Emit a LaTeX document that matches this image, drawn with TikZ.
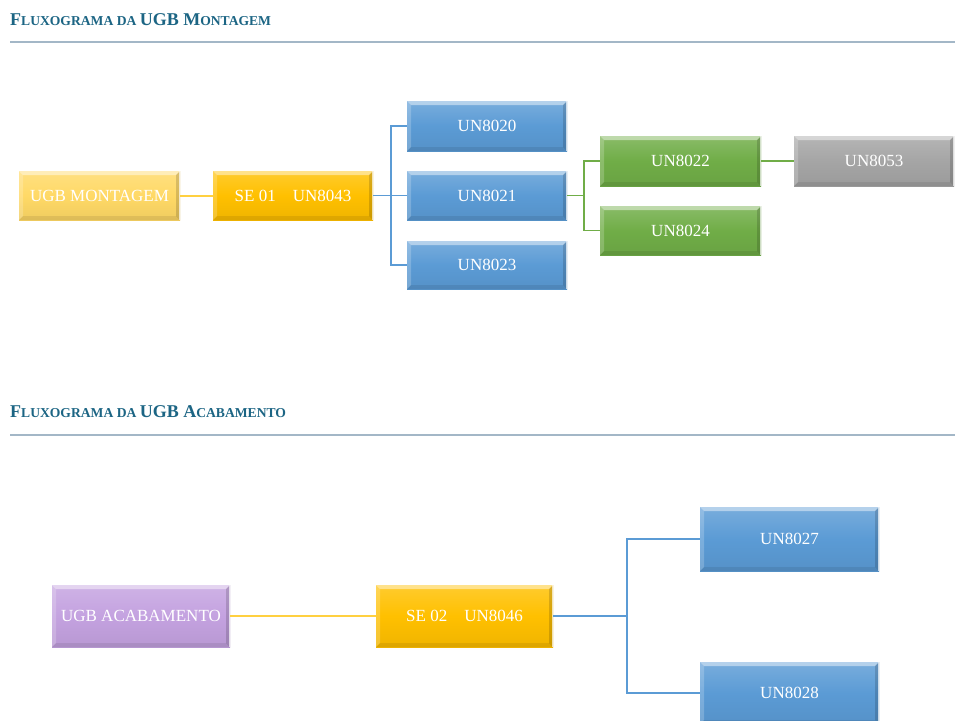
\documentclass[tikz,border=0pt]{standalone}
\usepackage{fontspec}
\setmainfont{Liberation Serif}
\usetikzlibrary{calc}

\definecolor{ugbyel}{HTML}{FFD966}
\definecolor{segold}{HTML}{FFC000}
\definecolor{unblue}{HTML}{5B9BD5}
\definecolor{ungreen}{HTML}{70AD47}
\definecolor{ungray}{HTML}{A5A5A5}
\definecolor{ugbpurple}{HTML}{C4A2E0}
\definecolor{headteal}{HTML}{1C6584}
\definecolor{rulegray}{HTML}{A3B7C7}
\definecolor{linkyel}{HTML}{FFD040}

% small-caps heading sizes
\newcommand\hbig{\fontsize{18}{20}\selectfont}
\newcommand\hsmall{\fontsize{13.6}{15}\selectfont}

\tikzset{
  bevel/.style={path picture={
    \coordinate (bNW) at (path picture bounding box.north west);
    \coordinate (bNE) at (path picture bounding box.north east);
    \coordinate (bSW) at (path picture bounding box.south west);
    \coordinate (bSE) at (path picture bounding box.south east);
    \fill[white,opacity=.45] (bNW) -- (bNE)
      -- ([shift={(-4pt,-4pt)}]bNE) -- ([shift={(4pt,-4pt)}]bNW) -- cycle;
    \fill[white,opacity=.2] (bNW) -- ([shift={(4pt,-4pt)}]bNW)
      -- ([shift={(4pt,4pt)}]bSW) -- (bSW) -- cycle;
    \fill[black,opacity=.08] (bSW) -- (bSE)
      -- ([shift={(-4pt,4pt)}]bSE) -- ([shift={(4pt,4pt)}]bSW) -- cycle;
    \fill[black,opacity=.15] (bNE) -- (bSE)
      -- ([shift={(-4pt,4pt)}]bSE) -- ([shift={(-4pt,-4pt)}]bNE) -- cycle;
    \draw[white,opacity=.7,line width=.8pt] ([xshift=-.4pt]bNE) -- ([xshift=-.4pt]bSE);
  }},
  unbox/.style={rectangle, inner sep=0pt, outer sep=0pt, anchor=north west,
    top color=#1!82!white, bottom color=#1!94!black, middle color=#1,
    text=white, font=\fontsize{17}{19}\selectfont, bevel},
  sz/.style 2 args={minimum width=#1pt, minimum height=#2pt},
  heading/.style={anchor=base west, inner sep=0pt, text=headteal, font=\bfseries},
  hrule/.style={rulegray, line width=1.3pt},
  yellink/.style={linkyel, line width=2pt},
  bluelink/.style={unblue, line width=1.4pt},
  greenlink/.style={ungreen, line width=1.4pt},
}

\begin{document}
\begin{tikzpicture}[x=1pt, y=-1pt]
  \path[use as bounding box, fill=white] (0,0) rectangle (955,720);
  \clip (0,0) rectangle (955,720);

  % ---- first flowchart ----
  \node[heading] (h1) at (10,25)
    {\hbig F\hsmall LUXOGRAMA DA \hbig UGB M\hsmall ONTAGEM};
  \coordinate (r1a) at (10,42);
  \coordinate (r1b) at (955,42);
  \draw[hrule] (r1a) -- (r1b);

  \node[unbox=ugbyel, sz={161}{49}] (ugbm) at (19,171) {UGB MONTAGEM};
  \node[unbox=segold, sz={160}{49}] (se1) at (213,171) {SE 01\hspace{1em}UN8043};
  \node[unbox=unblue, sz={160}{50}] (u20) at (407,101) {UN8020};
  \node[unbox=unblue, sz={160}{49}] (u21) at (407,171) {UN8021};
  \node[unbox=unblue, sz={160}{48}] (u23) at (407,241) {UN8023};
  \node[unbox=ungreen, sz={161}{50}] (u22) at (600,136) {UN8022};
  \node[unbox=ungreen, sz={161}{49}] (u24) at (600,206) {UN8024};
  \node[unbox=ungray, sz={160}{50}] (u53) at (794,136) {UN8053};

  \draw[yellink] (ugbm.east) -- (se1.west);
  \draw[bluelink] (se1.east) -- ++(18,0) coordinate (j1);
  \draw[bluelink] (j1) -- (u21.west);
  \draw[bluelink] (j1) |- (u20.west);
  \draw[bluelink] (j1) |- (u23.west);
  \draw[greenlink] (u21.east) -- ++(17,0) coordinate (j2);
  \draw[greenlink] (j2) |- (u22.west);
  \draw[greenlink] (j2) |- (u24.west);
  \draw[greenlink] (u22.east) -- (u53.west);

  % ---- second flowchart ----
  \node[heading] (h2) at (10,417)
    {\hbig F\hsmall LUXOGRAMA DA \hbig UGB A\hsmall CABAMENTO};
  \coordinate (r2a) at (10,435);
  \coordinate (r2b) at (955,435);
  \draw[hrule] (r2a) -- (r2b);

  \node[unbox=ugbpurple, sz={178}{62}] (ugba) at (52,585) {UGB ACABAMENTO};
  \node[unbox=segold, sz={177}{62}] (se2) at (376,585) {SE 02\hspace{1em}UN8046};
  \node[unbox=unblue, sz={179}{64}] (u27) at (700,507) {UN8027};
  \node[unbox=unblue, sz={179}{62}] (u28) at (700,662) {UN8028};

  \draw[yellink] (ugba.east) -- (se2.west);
  \draw[bluelink] (se2.east) -- ++(74,0) coordinate (j3);
  \draw[bluelink] (j3) |- (u27.west);
  \draw[bluelink] (j3) |- (u28.west);
\end{tikzpicture}
\end{document}
